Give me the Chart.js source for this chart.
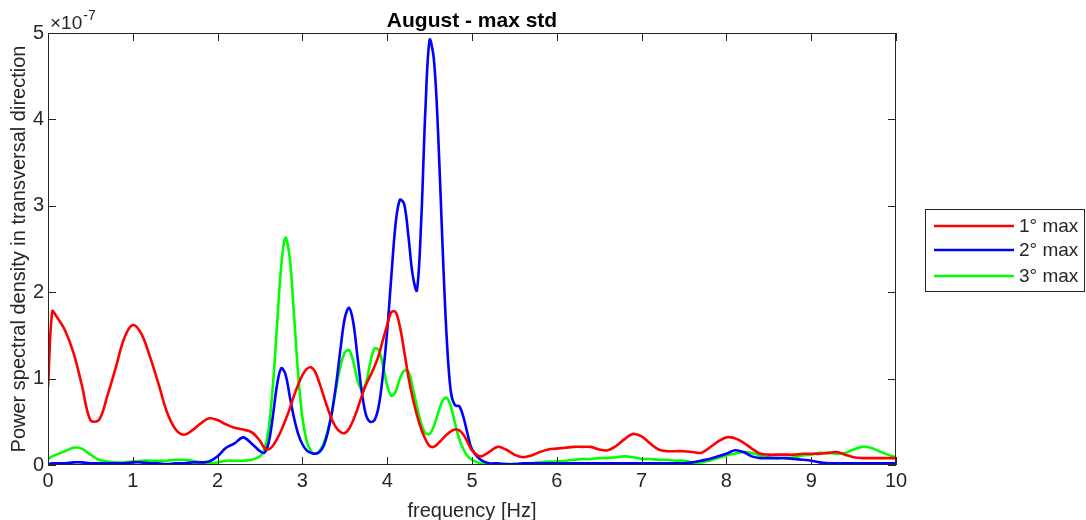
<!DOCTYPE html>
<html>
<head>
<meta charset="utf-8">
<script src="https://cdn.jsdelivr.net/npm/chart.js@4.4.0/dist/chart.umd.min.js"></script>
<style>
  html, body { margin: 0; padding: 0; background: #fff; }
  #wrap { width: 1086px; height: 520px; position: relative; }
</style>
</head>
<body>
<div id="wrap"><canvas id="psd"></canvas></div>
<script>
// frequency axis [Hz] (finer step where the peaks are)
var freq = [
  0.0, 0.05, 0.1, 0.2, 0.3, 0.4, 0.5, 0.6, 0.7, 0.8, 0.9,
  1.0, 1.1, 1.2, 1.3, 1.4, 1.5, 1.6, 1.7, 1.8, 1.9,
  2.0, 2.1, 2.2, 2.3, 2.4,
  2.50, 2.55, 2.60, 2.65, 2.70, 2.75, 2.80, 2.85, 2.90, 2.95,
  3.00, 3.05, 3.10, 3.15, 3.20, 3.25, 3.30, 3.35, 3.40, 3.45,
  3.50, 3.55, 3.60, 3.65, 3.70, 3.75, 3.80, 3.85, 3.90, 3.95,
  4.00, 4.05, 4.10, 4.15, 4.20, 4.25, 4.30, 4.35, 4.40, 4.45,
  4.50, 4.55, 4.60, 4.65, 4.70, 4.75, 4.80, 4.85, 4.90, 4.95,
  5.00,
  5.1, 5.2, 5.3, 5.4, 5.5, 5.6, 5.7, 5.8, 5.9, 6.0,
  6.1, 6.2, 6.3, 6.4, 6.5, 6.6, 6.7, 6.8, 6.9, 7.0,
  7.1, 7.2, 7.3, 7.4, 7.5, 7.6, 7.7, 7.8, 7.9, 8.0,
  8.1, 8.2, 8.3, 8.4, 8.5, 8.6, 8.7, 8.8, 8.9, 9.0,
  9.1, 9.2, 9.3, 9.4, 9.5, 9.6, 9.7, 9.8, 9.9, 10.0
];

// PSD values, in units of 1e-7
var max1 = [
  0.90, 1.78, 1.72, 1.56, 1.30, 0.92, 0.52, 0.52, 0.80, 1.13, 1.47,
  1.62, 1.52, 1.26, 0.95, 0.62, 0.42, 0.35, 0.40, 0.48, 0.54,
  0.52, 0.47, 0.43, 0.41, 0.38,
  0.28, 0.20, 0.18, 0.22, 0.30, 0.40, 0.52, 0.65, 0.80, 0.93,
  1.04, 1.11, 1.13, 1.08, 0.95, 0.80, 0.65, 0.52, 0.43, 0.38,
  0.37, 0.42, 0.52, 0.65, 0.80, 0.93, 1.03, 1.14, 1.27, 1.45,
  1.62, 1.77, 1.77, 1.60, 1.32, 1.02, 0.78, 0.58, 0.42, 0.30,
  0.22, 0.21, 0.25, 0.30, 0.35, 0.39, 0.41, 0.40, 0.35, 0.26,
  0.17,
  0.10, 0.15, 0.21, 0.18, 0.12, 0.09, 0.11, 0.15, 0.18, 0.19,
  0.20, 0.21, 0.21, 0.21, 0.18, 0.17, 0.22, 0.30, 0.36, 0.33,
  0.25, 0.18, 0.16, 0.16, 0.16, 0.15, 0.14, 0.20, 0.27, 0.32,
  0.31, 0.26, 0.19, 0.13, 0.12, 0.12, 0.12, 0.12, 0.13, 0.13,
  0.13, 0.14, 0.15, 0.12, 0.09, 0.08, 0.08, 0.08, 0.08, 0.08
];
var max2 = [
  0.01, 0.02, 0.02, 0.02, 0.03, 0.03, 0.02, 0.02, 0.02, 0.02, 0.02,
  0.03, 0.03, 0.02, 0.02, 0.01, 0.02, 0.02, 0.03, 0.03, 0.04,
  0.10, 0.20, 0.25, 0.32, 0.25,
  0.16, 0.14, 0.25, 0.55, 0.92, 1.12, 1.05, 0.80, 0.55, 0.36,
  0.24, 0.17, 0.14, 0.13, 0.15, 0.22, 0.38, 0.62, 0.95, 1.35,
  1.70, 1.82, 1.65, 1.25, 0.85, 0.58, 0.50, 0.52, 0.68, 1.05,
  1.55, 2.20, 2.80, 3.07, 3.02, 2.65, 2.20, 2.02, 2.80, 4.10,
  4.92, 4.70, 3.85, 2.60, 1.50, 0.85, 0.69, 0.68, 0.55, 0.35,
  0.18,
  0.06, 0.02, 0.02, 0.01, 0.01, 0.02, 0.02, 0.02, 0.02, 0.02,
  0.02, 0.02, 0.02, 0.02, 0.02, 0.02, 0.02, 0.02, 0.02, 0.02,
  0.02, 0.02, 0.02, 0.02, 0.02, 0.03, 0.05, 0.07, 0.10, 0.13,
  0.17, 0.15, 0.10, 0.08, 0.08, 0.08, 0.08, 0.07, 0.06, 0.05,
  0.03, 0.02, 0.02, 0.02, 0.02, 0.02, 0.02, 0.02, 0.02, 0.02
];
var max3 = [
  0.07, 0.10, 0.12, 0.16, 0.20, 0.19, 0.12, 0.06, 0.04, 0.03, 0.03,
  0.04, 0.05, 0.05, 0.05, 0.05, 0.06, 0.06, 0.05, 0.03, 0.02,
  0.03, 0.05, 0.05, 0.05, 0.06,
  0.10, 0.18, 0.40, 0.90, 1.60, 2.30, 2.63, 2.40, 1.75, 1.05,
  0.55, 0.28, 0.16, 0.13, 0.16, 0.25, 0.40, 0.62, 0.90, 1.15,
  1.30, 1.33, 1.20, 0.98, 0.87, 0.95, 1.18, 1.35, 1.33, 1.15,
  0.92, 0.80, 0.85, 1.00, 1.09, 1.08, 0.90, 0.68, 0.48, 0.37,
  0.36, 0.45, 0.60, 0.74, 0.78, 0.68, 0.48, 0.30, 0.18, 0.10,
  0.06,
  0.02, 0.01, 0.01, 0.01, 0.01, 0.01, 0.02, 0.03, 0.04, 0.04,
  0.05, 0.06, 0.07, 0.07, 0.08, 0.08, 0.09, 0.10, 0.09, 0.07,
  0.07, 0.06, 0.06, 0.05, 0.05, 0.03, 0.03, 0.05, 0.08, 0.11,
  0.13, 0.15, 0.14, 0.11, 0.09, 0.08, 0.08, 0.09, 0.11, 0.12,
  0.14, 0.14, 0.13, 0.14, 0.18, 0.21, 0.20, 0.16, 0.12, 0.09
];

var seriesNames = ['1° max', '2° max', '3° max'];
var seriesColors = ['#ff0000', '#0000ff', '#00ff00'];
var xTicks = [0, 1, 2, 3, 4, 5, 6, 7, 8, 9, 10];
var yTicks = [0, 1, 2, 3, 4, 5];

var FONT = '"Liberation Sans", Arial, Helvetica, sans-serif';
var INK = '#262626';

function toPoints(vals) {
  return freq.map(function (f, i) { return { x: f, y: vals[i] }; });
}

// 박스 테두리, 안쪽 눈금, 제목, 지수 표기, 범례
var matlabFrame = {
  id: 'matlabFrame',
  afterDraw: function (chart) {
    var ctx = chart.ctx;
    var a = chart.chartArea;
    var xs = chart.scales.x, ys = chart.scales.y;
    ctx.save();
    ctx.strokeStyle = INK;
    ctx.lineWidth = 1;
    ctx.strokeRect(a.left + 0.5, a.top + 0.5, a.right - a.left - 1, a.bottom - a.top - 1);

    var tl = 8;
    ctx.beginPath();
    xTicks.forEach(function (v) {
      var px = Math.round(xs.getPixelForValue(v)) + 0.5;
      ctx.moveTo(px, a.bottom); ctx.lineTo(px, a.bottom - tl);
      ctx.moveTo(px, a.top); ctx.lineTo(px, a.top + tl);
    });
    yTicks.forEach(function (v) {
      var py = Math.round(ys.getPixelForValue(v)) + 0.5;
      ctx.moveTo(a.left, py); ctx.lineTo(a.left + tl, py);
      ctx.moveTo(a.right, py); ctx.lineTo(a.right - tl, py);
    });
    ctx.stroke();

    // 제목
    ctx.fillStyle = '#000';
    ctx.font = 'bold 21px ' + FONT;
    ctx.textAlign = 'center';
    ctx.textBaseline = 'alphabetic';
    ctx.fillText('August - max std', (a.left + a.right) / 2, 27);

    // x10^-7
    ctx.fillStyle = INK;
    ctx.textAlign = 'left';
    ctx.font = '19px ' + FONT;
    ctx.fillText('\u00d710', a.left + 2, 29);
    var w = ctx.measureText('\u00d710').width;
    ctx.font = '14px ' + FONT;
    ctx.fillText('-7', a.left + 2 + w + 1, 20);

    // 범례
    var lx = 925, ly = 209, lw = 159, lh = 82;
    ctx.fillStyle = '#fff';
    ctx.fillRect(lx, ly, lw, lh);
    ctx.strokeStyle = INK;
    ctx.lineWidth = 1;
    ctx.strokeRect(lx + 0.5, ly + 0.5, lw, lh);
    ctx.font = '19px ' + FONT;
    ctx.textBaseline = 'middle';
    var rows = [226, 250, 276];
    seriesNames.forEach(function (name, i) {
      ctx.strokeStyle = seriesColors[i];
      ctx.lineWidth = 2.5;
      ctx.beginPath();
      ctx.moveTo(934, rows[i]); ctx.lineTo(1014, rows[i]);
      ctx.stroke();
      ctx.fillStyle = INK;
      ctx.fillText(name, 1019, rows[i] + 1);
    });
    ctx.restore();
  }
};

var datasets = [max1, max2, max3].map(function (vals, i) {
  return {
    label: seriesNames[i],
    data: toPoints(vals),
    borderColor: seriesColors[i],
    backgroundColor: seriesColors[i],
    borderWidth: 2.6,
    pointRadius: 0,
    tension: 0.35,
    fill: false
  };
});

var canvas = document.getElementById('psd');
canvas.width = 1086;
canvas.height = 520;

new Chart(canvas.getContext('2d'), {
  type: 'line',
  data: { datasets: datasets },
  options: {
    responsive: false,
    animation: false,
    devicePixelRatio: 1,
    layout: { padding: { top: 33, right: 190, left: 0, bottom: 0 } },
    plugins: {
      legend: { display: false },
      title: { display: false },
      tooltip: { enabled: false }
    },
    scales: {
      x: {
        type: 'linear',
        min: 0,
        max: 10,
        afterBuildTicks: function (scale) {
          scale.ticks = xTicks.map(function (v) { return { value: v }; });
        },
        afterFit: function (scale) { scale.height = 55; },
        grid: { display: false, drawTicks: false },
        border: { display: false },
        ticks: { color: INK, padding: 4, maxRotation: 0, font: { family: FONT, size: 20 } },
        title: {
          display: true,
          text: 'frequency [Hz]',
          color: INK,
          padding: { top: 0, bottom: -3 },
          font: { family: FONT, size: 20 }
        }
      },
      y: {
        min: 0,
        max: 5,
        afterBuildTicks: function (scale) {
          scale.ticks = yTicks.map(function (v) { return { value: v }; });
        },
        afterFit: function (scale) { scale.width = 48; },
        grid: { display: false, drawTicks: false },
        border: { display: false },
        ticks: { color: INK, padding: 4, font: { family: FONT, size: 20 } },
        title: {
          display: true,
          text: 'Power spectral density in transversal direction',
          color: INK,
          padding: { top: 7, bottom: 0 },
          font: { family: FONT, size: 20 }
        }
      }
    }
  },
  plugins: [matlabFrame]
});
</script>
</body>
</html>
